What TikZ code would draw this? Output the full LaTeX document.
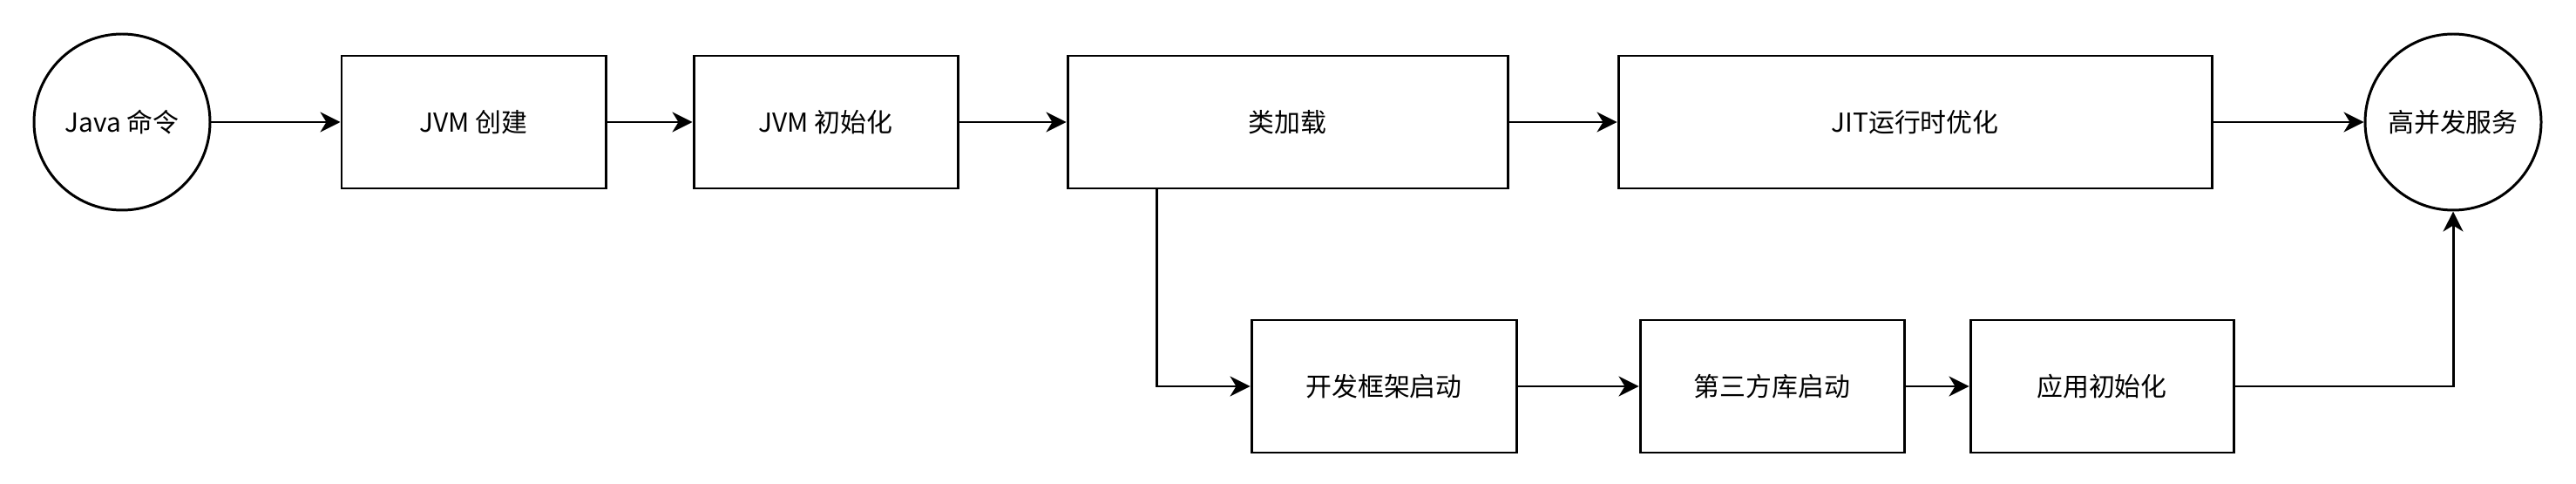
\documentclass[tikz,border=0pt]{standalone}
\usepackage{fontspec}
\setmainfont{Noto Sans CJK SC}
\usetikzlibrary{arrows.meta}

\begin{document}
\begin{tikzpicture}[every node/.style={font=\fontsize{8.5}{10}\selectfont, line width=.85pt},
    stage/.style={draw, rectangle, minimum height=1.52cm, inner sep=0pt},
    term/.style={draw, circle, minimum size=2.02cm, inner sep=0pt},
    flow/.style={-{Stealth[length=2.3mm, width=2.3mm, inset=.7mm]}, line width=.85pt}]

    \useasboundingbox (0, 0) rectangle (29.56, 5.54);

    \node [term] (cmd) at (1.40, 4.14) {Java 命令};
    \node [stage, minimum width=3.03cm] (jvmc) at (5.435, 4.14) {JVM 创建};
    \node [stage, minimum width=3.03cm] (jvmi) at (9.475, 4.14) {JVM 初始化};
    \node [stage, minimum width=5.05cm] (cls) at (14.775, 4.14) {类加载};
    \node [stage, minimum width=6.81cm] (jit) at (21.975, 4.14) {JIT运行时优化};
    \node [term] (svc) at (28.15, 4.14) {高并发服务};

    \node [stage, minimum width=3.04cm] (fw) at (15.88, 1.11) {开发框架启动};
    \node [stage, minimum width=3.03cm] (lib) at (20.335, 1.11) {第三方库启动};
    \node [stage, minimum width=3.02cm] (app) at (24.12, 1.11) {应用初始化};

    \coordinate (split) at (13.27, 3.38);

    \draw [flow] (cmd) to (jvmc);
    \draw [flow] (jvmc) to (jvmi);
    \draw [flow] (jvmi) to (cls);
    \draw [flow] (cls) to (jit);
    \draw [flow] (jit) to (svc);

    \draw [flow] (split) |- (fw);
    \draw [flow] (fw) to (lib);
    \draw [flow] (lib) to (app);
    \draw [flow] (app) -| (svc);

  \end{tikzpicture}
\end{document}
